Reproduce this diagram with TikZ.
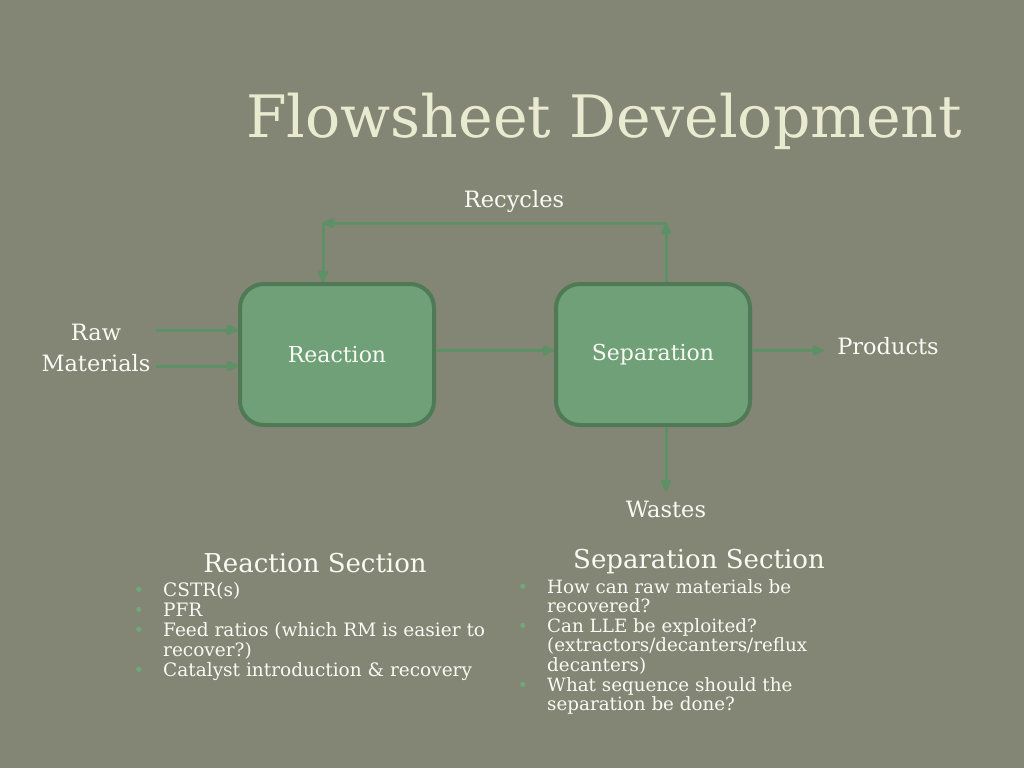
\documentclass[tikz,border=0pt]{standalone}
\usepackage{fontspec}
\setmainfont{DejaVu Serif}
\usepackage{xcolor}
\usetikzlibrary{arrows.meta, positioning}
\definecolor{cBack}{RGB}{131,133,117}
\definecolor{cFill}{RGB}{111,160,119}
\definecolor{cEdge}{RGB}{79,122,85}
\definecolor{cFlow}{RGB}{94,144,102}
\definecolor{cText}{RGB}{250,250,244}
\definecolor{cTitle}{RGB}{232,235,208}
\definecolor{cDot}{RGB}{112,168,120}
\newcommand{\itm}{\llap{{\color{cDot}\fontsize{18}{18}\selectfont\textbullet}\hspace{19pt}}}
\tikzset{
	unitbox/.style ={rectangle, rounded corners=24pt, minimum width=194pt, minimum height=141pt, draw=cEdge, line width=4pt, fill=cFill, text=cText, font=\fontsize{22}{26}\selectfont},
	lbl/.style     ={text=cText, font=\fontsize{22.5}{31}\selectfont, align=center},
	head/.style    ={text=cText, font=\fontsize{26}{30}\selectfont},
	itemlist/.style={text=cText, anchor=north west, inner sep=0pt},
	flowarrow/.style={-{Latex[length=15pt, width=13pt, round]}, cFlow, line width=3pt},
}

\begin{document}
\begin{tikzpicture}[x=1pt, y=-1pt]
	\fill[cBack] (0,0) rectangle (1024,768);
	\useasboundingbox (0,0) rectangle (1024,768);
	% title
	\node[anchor=base east, inner sep=0pt, text=cTitle, font=\fontsize{58.5}{64}\selectfont] (title) at (962,137) {Flowsheet Development};
	% units
	\node[unitbox] (reac) at (337,354.5) {Reaction};
	\node[unitbox] (sep) at (653,354.5) {Separation};
	% streams
	\node[lbl] (raw) at (96,348) {Raw\\Materials};
	\node[lbl] (prod) at (888,346) {Products};
	\node[lbl] (waste) at (666,509) {Wastes};
	\node[lbl] (recy) at (514,201) {Recycles};
	\coordinate (r1) at (666,223);
	\coordinate (r2) at (323,223);
	\draw[flowarrow] ([xshift=2pt,yshift=18pt]raw.east) -- ([yshift=18pt]raw.east -| reac.west);
	\draw[flowarrow] ([xshift=2pt,yshift=-18pt]raw.east) -- ([yshift=-18pt]raw.east -| reac.west);
	\draw[flowarrow] ([yshift=4pt]reac.east) -- ([yshift=4pt]sep.west);
	\draw[flowarrow] ([yshift=4pt]sep.east) -- ([yshift=4pt,xshift=-10pt]sep.east -| prod.west);
	\draw[flowarrow] (sep.south -| waste) -- ([yshift=6pt]waste.north);
	\draw[flowarrow] (sep.north -| r1) -- (r1);
	\draw[flowarrow] (r1) -- (r2);
	\draw[flowarrow] (r2) -- (reac.north -| r2);
	% sections
	\node[head] (rsec) at (315,563) {Reaction Section};
	\node[head] (ssec) at (699,562) {Separation Section};
	\node[itemlist, font=\fontsize{18.5}{20}\selectfont] (rlist) at (163,582) {%
		\begin{tabular}{@{}l@{}}
			\itm CSTR(s)\\
			\itm PFR\\
			\itm Feed ratios (which RM is easier to\\
			recover?)\\
			\itm Catalyst introduction \& recovery
		\end{tabular}};
	\node[itemlist, font=\fontsize{18.3}{19}\selectfont] (slist) at (547,579) {%
		\begin{tabular}{@{}l@{}}
			\itm How can raw materials be\\
			recovered?\\
			\itm Can LLE be exploited?\\
			(extractors/decanters/reflux\\
			decanters)\\
			\itm What sequence should the\\
			separation be done?
		\end{tabular}};
\end{tikzpicture}
\end{document}
